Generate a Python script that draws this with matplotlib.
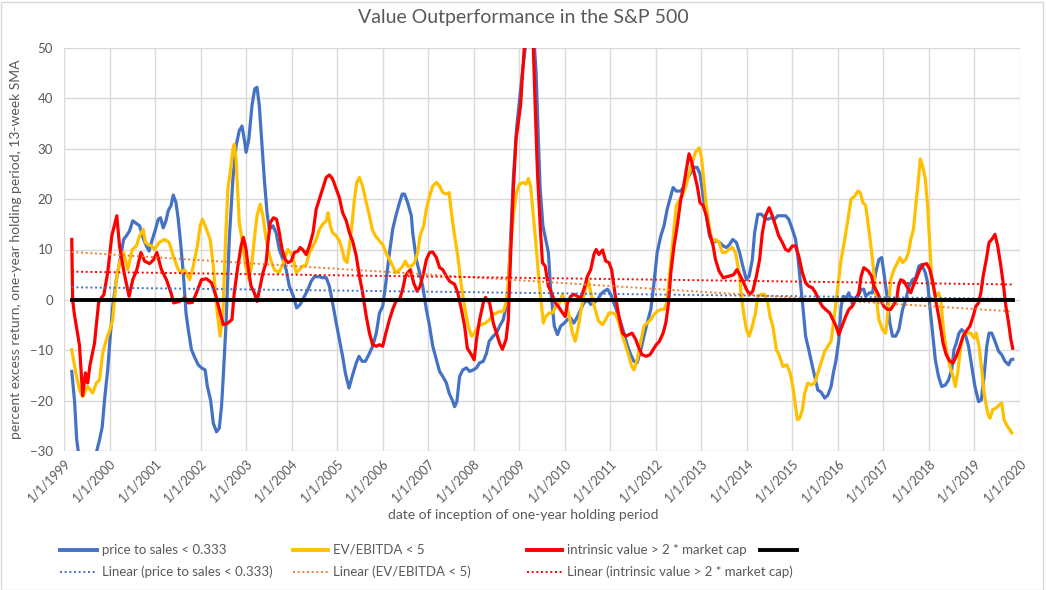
import matplotlib
matplotlib.use("Agg")
import matplotlib.pyplot as plt
from matplotlib.lines import Line2D
from matplotlib.patches import Rectangle

plt.rcParams['font.family'] = ['Lato', 'DejaVu Sans']

# price to sales < 0.333 (blue); values below -30 / above 50 are off the chart
ps_year = [1999.17, 1999.23, 1999.28, 1999.32, 1999.40, 1999.50, 1999.62, 1999.71, 1999.78, 1999.84,
           1999.89, 1999.96, 2000.01, 2000.07, 2000.15, 2000.22, 2000.31, 2000.37, 2000.44, 2000.51,
           2000.60, 2000.66, 2000.75, 2000.81, 2000.87, 2000.94, 2001.01, 2001.07, 2001.12, 2001.18,
           2001.24, 2001.29, 2001.35, 2001.40, 2001.46, 2001.51, 2001.56, 2001.62, 2001.68, 2001.73,
           2001.80, 2001.88, 2001.95, 2002.02, 2002.10, 2002.15, 2002.22, 2002.28, 2002.35, 2002.41,
           2002.46, 2002.50, 2002.56, 2002.63, 2002.71, 2002.78, 2002.85, 2002.91, 2002.96, 2003.00,
           2003.06, 2003.13, 2003.19, 2003.24, 2003.29, 2003.35, 2003.40, 2003.46, 2003.51, 2003.59,
           2003.66, 2003.73, 2003.81, 2003.88, 2003.95, 2004.04, 2004.11, 2004.19, 2004.28, 2004.36,
           2004.43, 2004.50, 2004.61, 2004.68, 2004.76, 2004.83, 2004.90, 2004.98, 2005.05, 2005.12,
           2005.18, 2005.26, 2005.33, 2005.42, 2005.48, 2005.55, 2005.62, 2005.71, 2005.78, 2005.86,
           2005.93, 2006.00, 2006.07, 2006.15, 2006.22, 2006.29, 2006.37, 2006.43, 2006.48, 2006.55,
           2006.63, 2006.66, 2006.74, 2006.81, 2006.88, 2006.96, 2007.03, 2007.10, 2007.18, 2007.25,
           2007.32, 2007.40, 2007.46, 2007.53, 2007.58, 2007.63, 2007.69, 2007.76, 2007.84, 2007.91,
           2007.99, 2008.06, 2008.13, 2008.21, 2008.28, 2008.34, 2008.43, 2008.50, 2008.57, 2008.65,
           2008.71, 2008.76, 2008.81, 2008.87, 2008.94, 2009.01, 2009.07, 2009.13, 2009.25, 2009.37,
           2009.42, 2009.46, 2009.52, 2009.58, 2009.64, 2009.69, 2009.77, 2009.84, 2009.91, 2009.99,
           2010.06, 2010.13, 2010.20, 2010.28, 2010.35, 2010.42, 2010.50, 2010.57, 2010.64, 2010.72,
           2010.79, 2010.86, 2010.94, 2011.01, 2011.08, 2011.16, 2011.23, 2011.30, 2011.38, 2011.45,
           2011.52, 2011.59, 2011.67, 2011.74, 2011.81, 2011.89, 2011.96, 2012.03, 2012.11, 2012.18,
           2012.25, 2012.33, 2012.38, 2012.45, 2012.55, 2012.62, 2012.69, 2012.77, 2012.84, 2012.91,
           2012.97, 2013.04, 2013.11, 2013.18, 2013.26, 2013.33, 2013.40, 2013.48, 2013.55, 2013.62,
           2013.69, 2013.77, 2013.84, 2013.91, 2013.99, 2014.05, 2014.12, 2014.17, 2014.24, 2014.32,
           2014.39, 2014.46, 2014.54, 2014.61, 2014.68, 2014.76, 2014.85, 2014.92, 2015.00, 2015.07,
           2015.12, 2015.17, 2015.23, 2015.29, 2015.36, 2015.44, 2015.51, 2015.56, 2015.63, 2015.71,
           2015.78, 2015.85, 2015.90, 2015.96, 2016.02, 2016.07, 2016.12, 2016.18, 2016.24, 2016.31,
           2016.37, 2016.44, 2016.51, 2016.57, 2016.61, 2016.69, 2016.76, 2016.83, 2016.90, 2016.96,
           2017.01, 2017.09, 2017.14, 2017.20, 2017.27, 2017.34, 2017.42, 2017.49, 2017.56, 2017.64,
           2017.71, 2017.78, 2017.84, 2017.92, 2017.97, 2018.02, 2018.08, 2018.14, 2018.21, 2018.28,
           2018.36, 2018.43, 2018.50, 2018.55, 2018.60, 2018.66, 2018.72, 2018.79, 2018.87, 2018.94,
           2019.01, 2019.09, 2019.15, 2019.21, 2019.27, 2019.32, 2019.38, 2019.45, 2019.53, 2019.60,
           2019.67, 2019.75, 2019.80, 2019.84]
ps_val = [-14.2, -19.9, -27.8, -30.5, -36, -38, -35, -30.3, -27.8, -25.2,
          -19.9, -13.9, -7.9, -1.3, 4, 7.4, 12, 12.7, 13.7, 15.7,
          15.1, 14.7, 12, 10.7, 9.7, 12, 14, 16, 16.3, 14.3,
          15.7, 17.7, 18.7, 20.8, 19.3, 16, 11.4, 5.4, -2.6, -5.9,
          -9.9, -11.6, -12.9, -13.5, -13.9, -17.2, -19.9, -24.5, -26.2, -25.5,
          -21.2, -15, -4.6, 12, 24, 30.6, 33.6, 34.5, 31.9, 29.3,
          31.9, 38.6, 41.9, 42.2, 38.6, 30.6, 24, 17.3, 14, 14.7,
          13.3, 10, 8, 6, 2.7, 0.7, -1.6, -0.9, 0.7, 2.1,
          3.7, 4.6, 4.6, 4.4, 4.4, 2.7, -0.6, -4.6, -7.9, -11.2,
          -14.5, -17.5, -15.2, -12.5, -11.2, -12.2, -12.2, -10.6, -9.2, -6.6,
          -2.6, -1.3, 3.4, 9.4, 14, 16.7, 19.3, 21, 21, 19.3,
          16.7, 13.3, 8, 5.4, 2.7, -1.9, -5.2, -9.2, -11.9, -14.2,
          -15.2, -16.5, -18.5, -19.9, -21.2, -20.2, -15.2, -13.9, -13.5, -14.2,
          -13.9, -13.5, -12.5, -12.2, -10.6, -8.2, -7.2, -6.6, -5.2, -3.9,
          -1.3, 2.7, 12, 24, 33.9, 39.9, 45.2, 49.9, 62, 45.2,
          31.9, 22, 14.7, 12, 9.4, 2.1, -5.2, -6.9, -5.2, -4.6,
          -3.9, -3.6, -4.6, -3.3, -1.9, -0.6, 0, -0.9, -0.6, 0,
          1.1, 1.7, 2.1, 1.1, -0.6, -2.6, -4.6, -6.6, -9.2, -10.9,
          -12.2, -12.5, -9.9, -7.2, -4.6, -1.9, 3.4, 9.4, 12.7, 14.7,
          18, 20.6, 22.3, 21.6, 21.6, 22.6, 24, 25.3, 26.3, 26.3,
          25, 20.6, 16.7, 12.7, 11.4, 11.7, 11.4, 10.7, 10.4, 11,
          12, 11.4, 9.4, 6.7, 4, 4.7, 8, 13.3, 17, 17,
          16.3, 16, 16.3, 16, 16.7, 16.7, 16.7, 16, 14, 12,
          8.7, 4, -1.3, -7.2, -9.9, -13.2, -15.9, -17.9, -18.3, -19.5,
          -18.9, -17.2, -14.5, -11.9, -7.9, -1.3, 0.7, 0.4, 1.4, -0.6,
          0.4, 0.7, 2.1, 2.1, 0.7, 1.4, 1.4, 5.4, 8, 8.4,
          5.4, 0, -4.6, -7.2, -7.2, -5.9, -1.9, 0, 2.7, 4,
          4.4, 6.7, 7, 5.4, 3.4, -1.3, -6.6, -11.9, -15.2, -17.2,
          -16.9, -15.9, -13.9, -9.9, -8.6, -6.6, -5.9, -6.6, -9.2, -13.2,
          -17.2, -20.2, -19.9, -15.2, -9.2, -6.6, -6.6, -8.2, -10.2, -10.9,
          -12.2, -12.9, -11.9, -11.8]

# EV/EBITDA < 5 (yellow)
ev_year = [1999.17, 1999.26, 1999.34, 1999.41, 1999.52, 1999.63, 1999.71, 1999.78, 1999.85, 1999.93,
           2000.01, 2000.07, 2000.15, 2000.22, 2000.31, 2000.40, 2000.50, 2000.59, 2000.66, 2000.74,
           2000.79, 2000.85, 2000.92, 2000.99, 2001.09, 2001.21, 2001.31, 2001.40, 2001.51, 2001.58,
           2001.65, 2001.76, 2001.84, 2001.93, 2001.99, 2002.04, 2002.13, 2002.21, 2002.28, 2002.35,
           2002.43, 2002.49, 2002.55, 2002.60, 2002.65, 2002.71, 2002.74, 2002.78, 2002.82, 2002.85,
           2002.91, 2002.99, 2003.06, 2003.12, 2003.18, 2003.24, 2003.31, 2003.37, 2003.42, 2003.48,
           2003.55, 2003.62, 2003.72, 2003.79, 2003.86, 2003.92, 2003.97, 2004.03, 2004.10, 2004.17,
           2004.25, 2004.32, 2004.39, 2004.47, 2004.54, 2004.61, 2004.68, 2004.76, 2004.80, 2004.85,
           2004.90, 2004.98, 2005.05, 2005.11, 2005.16, 2005.22, 2005.27, 2005.33, 2005.38, 2005.43,
           2005.49, 2005.56, 2005.64, 2005.71, 2005.77, 2005.84, 2005.93, 2006.00, 2006.07, 2006.15,
           2006.22, 2006.29, 2006.37, 2006.44, 2006.50, 2006.55, 2006.63, 2006.70, 2006.77, 2006.82,
           2006.90, 2006.96, 2007.03, 2007.10, 2007.18, 2007.25, 2007.32, 2007.40, 2007.46, 2007.51,
           2007.58, 2007.65, 2007.73, 2007.80, 2007.88, 2007.95, 2008.02, 2008.10, 2008.17, 2008.26,
           2008.35, 2008.43, 2008.50, 2008.57, 2008.65, 2008.71, 2008.76, 2008.81, 2008.87, 2008.94,
           2009.01, 2009.09, 2009.15, 2009.20, 2009.25, 2009.31, 2009.37, 2009.42, 2009.49, 2009.53,
           2009.58, 2009.66, 2009.73, 2009.80, 2009.88, 2009.95, 2010.02, 2010.10, 2010.17, 2010.23,
           2010.30, 2010.37, 2010.45, 2010.52, 2010.59, 2010.67, 2010.74, 2010.83, 2010.90, 2010.97,
           2011.05, 2011.12, 2011.19, 2011.27, 2011.34, 2011.41, 2011.47, 2011.52, 2011.59, 2011.66,
           2011.74, 2011.81, 2011.89, 2011.96, 2012.03, 2012.11, 2012.18, 2012.24, 2012.29, 2012.35,
           2012.40, 2012.45, 2012.51, 2012.58, 2012.66, 2012.73, 2012.80, 2012.87, 2012.95, 2013.00,
           2013.05, 2013.11, 2013.17, 2013.24, 2013.31, 2013.39, 2013.46, 2013.53, 2013.61, 2013.68,
           2013.75, 2013.83, 2013.88, 2013.93, 2013.99, 2014.05, 2014.12, 2014.19, 2014.24, 2014.32,
           2014.39, 2014.46, 2014.51, 2014.57, 2014.65, 2014.72, 2014.79, 2014.88, 2014.95, 2015.01,
           2015.06, 2015.11, 2015.16, 2015.22, 2015.27, 2015.34, 2015.41, 2015.49, 2015.56, 2015.63,
           2015.71, 2015.78, 2015.85, 2015.93, 2016.00, 2016.07, 2016.15, 2016.22, 2016.29, 2016.37,
           2016.44, 2016.49, 2016.55, 2016.61, 2016.69, 2016.76, 2016.83, 2016.90, 2016.98, 2017.05,
           2017.11, 2017.16, 2017.23, 2017.31, 2017.36, 2017.42, 2017.49, 2017.55, 2017.60, 2017.66,
           2017.71, 2017.77, 2017.81, 2017.86, 2017.92, 2017.97, 2018.02, 2018.06, 2018.14, 2018.21,
           2018.26, 2018.32, 2018.38, 2018.46, 2018.53, 2018.58, 2018.63, 2018.70, 2018.77, 2018.85,
           2018.92, 2018.99, 2019.04, 2019.10, 2019.16, 2019.21, 2019.29, 2019.34, 2019.40, 2019.47,
           2019.54, 2019.60, 2019.65, 2019.73, 2019.78, 2019.82]
ev_val = [-9.9, -14.5, -17.9, -19.2, -17.2, -18.5, -16.5, -15.9, -10.6, -7.9,
          -5.9, -3.9, 4, 7.4, 9.4, 6, 10, 10.7, 12.7, 14,
          11.4, 11, 10.7, 10, 11.4, 12, 11.4, 8.7, 6, 5.4,
          6, 4, 6.7, 10.7, 14.7, 16, 14, 12, 6.7, -1.3,
          -7.2, -3, 12, 22, 25.3, 29.9, 30.9, 28, 20.6, 15.3,
          12, 6.7, 4, 6.7, 12, 16.7, 19, 16.7, 13.3, 10,
          7.7, 6, 5.4, 6.7, 8.7, 10, 9.4, 8.4, 5.4, 6,
          6.7, 7, 9.4, 10.7, 12, 14, 15, 15.7, 17.3, 14.7,
          13.3, 12.7, 11.7, 10, 8, 7.4, 10.7, 15.3, 20, 23.3,
          24.3, 22.6, 19.3, 16.7, 14, 12.7, 11.7, 11, 9.4, 8,
          6.7, 5.4, 6, 6.7, 7.7, 6.7, 6.7, 7.4, 9.4, 12.7,
          14.7, 18, 20.6, 22.6, 23.3, 22.6, 21.3, 21, 21.3, 17.3,
          12.7, 8.7, 2.7, -1.3, -5.2, -7.2, -6.6, -5.2, -4.9, -4.6,
          -3.9, -2.9, -2.6, -2.3, -2.3, -0.6, 3.4, 10.7, 16.7, 21.3,
          23, 23.3, 23, 24.1, 22.6, 16.7, 10.7, 5.4, -1.3, -4.6,
          -3.3, -2.6, -2.6, -1.3, -0.6, 1.1, -0.6, -3.3, -6.6, -8.2,
          -5.2, -1.3, 2.1, 3.7, 0.7, -1.9, -4.2, -4.9, -3.9, -2.6,
          -2.6, -2.9, -4.6, -7.2, -9.2, -11.2, -13.2, -13.9, -11.9, -8.6,
          -5.2, -4.6, -3.9, -2.9, -2.3, -1.9, -1.9, -0.6, 4, 9.4,
          14, 18.7, 19.7, 20.6, 22.6, 25, 27.3, 29.3, 30.2, 28.5,
          24, 18.7, 14.7, 11.4, 12, 11.4, 9.4, 9.4, 10, 10.4,
          9.4, 5.4, 0.7, -2.6, -5.9, -7.2, -5.2, -2.6, 0.7, 1.1,
          1.1, -0.6, -3.3, -5.2, -9.9, -11.2, -13.2, -12.9, -14.5, -17.2,
          -20.5, -23.8, -23.5, -21.8, -18.5, -16.5, -16.9, -16.5, -14.5, -12.5,
          -10.2, -9.2, -8.2, -2.6, 2.7, 8, 12, 16, 20, 20.6,
          21.6, 21.3, 19.3, 18.7, 13.3, 8, 1.4, -3.9, -5.9, -6.6,
          -1.3, 4, 6, 7.4, 8.4, 7.4, 8, 9.4, 12, 14,
          18.7, 24, 28, 26.6, 24, 18.7, 10.7, 4, 0.7, 1.4,
          0, -5.9, -9.9, -13.2, -15.2, -17.2, -14.5, -9.2, -6.6, -6.6,
          -6.6, -7.6, -6.6, -9.2, -13.9, -18.5, -22.5, -23.5, -21.8, -21.5,
          -20.9, -20.5, -23.8, -25.2, -25.8, -26.4]

# intrinsic value > 2 * market cap (red)
iv_year = [1999.17, 1999.19, 1999.23, 1999.34, 1999.41, 1999.47, 1999.52, 1999.57, 1999.67, 1999.76,
           1999.82, 1999.875, 1999.96, 2000.05, 2000.16, 2000.22, 2000.32, 2000.43, 2000.51, 2000.60,
           2000.69, 2000.77, 2000.88, 2000.97, 2001.04, 2001.14, 2001.25, 2001.35, 2001.41, 2001.54,
           2001.65, 2001.73, 2001.82, 2001.91, 2002.02, 2002.13, 2002.24, 2002.34, 2002.43, 2002.50,
           2002.60, 2002.69, 2002.74, 2002.82, 2002.89, 2002.94, 2003.00, 2003.06, 2003.11, 2003.18,
           2003.24, 2003.31, 2003.37, 2003.44, 2003.48, 2003.53, 2003.60, 2003.67, 2003.73, 2003.79,
           2003.86, 2003.92, 2003.99, 2004.06, 2004.14, 2004.19, 2004.25, 2004.32, 2004.39, 2004.47,
           2004.54, 2004.61, 2004.68, 2004.76, 2004.83, 2004.90, 2004.98, 2005.05, 2005.12, 2005.20,
           2005.27, 2005.34, 2005.42, 2005.49, 2005.56, 2005.64, 2005.71, 2005.78, 2005.86, 2005.93,
           2006.00, 2006.07, 2006.15, 2006.22, 2006.29, 2006.37, 2006.44, 2006.50, 2006.55, 2006.61,
           2006.68, 2006.76, 2006.82, 2006.90, 2006.96, 2007.03, 2007.10, 2007.18, 2007.25, 2007.32,
           2007.40, 2007.47, 2007.58, 2007.65, 2007.73, 2007.80, 2007.86, 2007.95, 2008.01, 2008.06,
           2008.13, 2008.21, 2008.26, 2008.35, 2008.43, 2008.50, 2008.57, 2008.63, 2008.71, 2008.76,
           2008.81, 2008.87, 2008.93, 2008.98, 2009.03, 2009.07, 2009.11, 2009.20, 2009.31, 2009.35,
           2009.40, 2009.46, 2009.51, 2009.57, 2009.64, 2009.71, 2009.79, 2009.86, 2009.93, 2010.01,
           2010.06, 2010.13, 2010.20, 2010.28, 2010.35, 2010.42, 2010.50, 2010.57, 2010.64, 2010.69,
           2010.75, 2010.83, 2010.90, 2010.97, 2011.03, 2011.10, 2011.19, 2011.27, 2011.34, 2011.41,
           2011.48, 2011.56, 2011.63, 2011.70, 2011.79, 2011.87, 2011.94, 2012.01, 2012.08, 2012.16,
           2012.22, 2012.28, 2012.33, 2012.40, 2012.47, 2012.55, 2012.60, 2012.66, 2012.73, 2012.79,
           2012.84, 2012.91, 2012.97, 2013.04, 2013.11, 2013.18, 2013.26, 2013.31, 2013.39, 2013.48,
           2013.56, 2013.64, 2013.71, 2013.78, 2013.86, 2013.93, 2013.99, 2014.06, 2014.13, 2014.21,
           2014.28, 2014.34, 2014.41, 2014.49, 2014.56, 2014.63, 2014.70, 2014.78, 2014.85, 2014.92,
           2015.00, 2015.07, 2015.14, 2015.22, 2015.29, 2015.36, 2015.44, 2015.51, 2015.58, 2015.66,
           2015.73, 2015.82, 2015.89, 2015.96, 2016.02, 2016.09, 2016.17, 2016.24, 2016.31, 2016.39,
           2016.46, 2016.51, 2016.57, 2016.67, 2016.74, 2016.79, 2016.87, 2016.94, 2017.01, 2017.09,
           2017.16, 2017.23, 2017.29, 2017.33, 2017.38, 2017.45, 2017.53, 2017.60, 2017.65, 2017.73,
           2017.80, 2017.87, 2017.95, 2018.02, 2018.09, 2018.16, 2018.24, 2018.31, 2018.38, 2018.46,
           2018.53, 2018.60, 2018.68, 2018.75, 2018.82, 2018.90, 2018.97, 2019.03, 2019.09, 2019.14,
           2019.19, 2019.26, 2019.32, 2019.38, 2019.45, 2019.51, 2019.58, 2019.64, 2019.69, 2019.75,
           2019.80, 2019.84]
iv_val = [12, 0, -3, -9, -19, -14.5, -16.5, -13, -8.6, -0.6,
          0.4, 1, 5.4, 12.7, 16.7, 10.7, 5.4, 0.7, 4, 6,
          9.4, 7.7, 7.2, 8, 9.4, 6, 4, 1.4, -0.6, -0.3,
          0.4, -0.6, -0.5, 1.4, 4, 4.2, 3.4, 0.7, -2.6, -4.9,
          -4.6, -3.9, 1.4, 6.7, 10.7, 12.4, 10, 5.4, 2.7, 1.4,
          -0.3, 2.7, 5.4, 7.4, 11.4, 15.3, 16.3, 16, 13.3, 10,
          8, 7.4, 7.7, 9.4, 9.7, 10.4, 9.9, 9, 10.7, 13.3,
          18, 20, 22, 24.3, 24.8, 24, 22, 20.3, 17.3, 15.7,
          13.3, 11.7, 8.7, 4.7, 1.4, -3.3, -6.6, -8.9, -9.2, -8.9,
          -9.2, -6.6, -3.9, -1.9, -0.3, 0, 2.1, 4.7, 5.4, 6,
          3.4, 1.7, 2.7, 5.4, 8, 9.4, 9.5, 8.4, 6.4, 6,
          4.7, 3.7, 3.1, 1.4, -1.9, -5.2, -9.6, -10.9, -11.9, -7.9,
          -3.9, -0.6, 0.5, -0.6, -4.6, -6.6, -8.6, -9.8, -7.9, -3.9,
          8.7, 22, 31.9, 35.3, 38.6, 44.6, 49.9, 58, 49.9, 38.6,
          25.3, 14.7, 7.4, 6.7, 2.7, 1.4, -0.6, -1.3, -2.3, -3.3,
          -0.6, 0.7, 1.1, 0.7, 0.4, 2.1, 4.7, 6, 9, 10,
          9, 9.9, 7.7, 7.4, 6, 1.4, -3.3, -6.6, -7.2, -6.9,
          -6.6, -7.9, -9.6, -10.9, -11.2, -10.9, -9.9, -8.9, -8.2, -6.6,
          -4.6, -0.6, 5.4, 10.7, 14.7, 20, 22, 25.3, 29, 27.3,
          25.3, 22.6, 19.3, 18.7, 16.7, 13.3, 10.7, 8, 5.7, 4.4,
          4.6, 4.8, 5, 6, 4.7, 3.4, 2.1, 1.1, 1.7, 4.7,
          8, 13.3, 16.7, 18.3, 16.7, 14.7, 12.7, 11.4, 10, 9.7,
          10.7, 10.7, 8.7, 5.4, 3.4, 2.7, 2.4, 1.4, 0, -1.3,
          -1.9, -2.6, -3.9, -5.2, -6.9, -5.2, -3.3, -1.9, -1.3, 0,
          1.4, 4.7, 6.4, 5.7, 4.7, 2.7, 1.4, 0, -1.3, -1.9,
          -1.9, -0.9, 0, 2.7, 4, 3.7, 2.4, 1.4, 2.7, 4.4,
          6, 7, 7.2, 6, 3.4, -0.6, -4.6, -8.6, -10.9, -12.2,
          -12.5, -11.2, -9.2, -7.2, -6.2, -5.2, -3.3, -1.3, -0.6, 1.4,
          4.7, 8, 11.4, 12, 13, 10.7, 6.7, 2.7, -1.3, -4.6,
          -7.9, -9.6]

# zero reference series (black)
zero_year = [1999.17, 2019.84]
zero_val = [0, 0]

# linear trendlines, value at first and last date
trend_year = [1999.17, 2019.84]
ps_trend = [2.5, 0.2]
ev_trend = [9.5, -2.3]
iv_trend = [5.6, 3.05]

tick_years = list(range(1999, 2021))
tick_labels = ["1/1/%d" % y for y in tick_years]

BLUE = "#4472C4"
YELLOW = "#FFC000"
RED = "#FF0000"
ORANGE = "#ED7D31"
GRID = "#D9D9D9"
TXT = "#595959"

fig = plt.figure(figsize=(10.46, 5.9), dpi=100)
ax = fig.add_axes([64 / 1046, 1 - 451 / 590, 956 / 1046, 403 / 590])

lw = 2.3
ax.plot(ps_year, ps_val, color=BLUE, lw=lw, zorder=3, solid_joinstyle="round")
ax.plot(ev_year, ev_val, color=YELLOW, lw=lw, zorder=4, solid_joinstyle="round")
ax.plot(iv_year, iv_val, color=RED, lw=lw, zorder=5, solid_joinstyle="round")

dots = (0, (1.0, 1.4))
ax.plot(trend_year, ps_trend, color=BLUE, lw=1.4, ls=dots, zorder=6)
ax.plot(trend_year, ev_trend, color=ORANGE, lw=1.4, ls=dots, zorder=6)
ax.plot(trend_year, iv_trend, color=RED, lw=1.4, ls=dots, zorder=6)
ax.plot(zero_year, zero_val, color="black", lw=2.8, zorder=7)

ax.set_xlim(1999, 2020)
ax.set_ylim(-30, 50)
ax.set_xticks(tick_years)
ax.set_xticklabels(tick_labels, rotation=45, ha="right", va="top",
                   rotation_mode="anchor", fontsize=9, color=TXT)
ax.set_yticks(range(-30, 51, 10))
ax.tick_params(axis="y", labelsize=9.5, labelcolor=TXT, length=0, pad=8)
ax.tick_params(axis="x", length=0, pad=4)
ax.grid(True, color=GRID, lw=1, zorder=0)
ax.set_axisbelow(True)
for s in ax.spines.values():
    s.set_visible(False)

ax.set_ylabel("percent excess return, one-year holding period, 13-week SMA",
              fontsize=10, color=TXT, labelpad=8)
ax.yaxis.set_label_coords(-42 / 956, 0.5)
fig.text(0.5, 1 - 18 / 590, "Value Outperformance in the S&P 500",
         ha="center", va="center", fontsize=14, color=TXT)
fig.text(0.5, 1 - 515 / 590, "date of inception of one-year holding period",
         ha="center", va="center", fontsize=10, color=TXT)

# legend laid out like the Excel chart: two rows below the plot
W, H = 1046, 590
legend_rows = [
    [(60, 97, BLUE, "-", "price to sales < 0.333"),
     (293, 328, YELLOW, "-", "EV/EBITDA < 5"),
     (527, 562, RED, "-", "intrinsic value > 2 * market cap"),
     (760, 797, "black", "-", "")],
    [(60, 97, BLUE, ":", "Linear (price to sales < 0.333)"),
     (293, 328, ORANGE, ":", "Linear (EV/EBITDA < 5)"),
     (527, 562, RED, ":", "Linear (intrinsic value > 2 * market cap)")],
]
for row, ypx in zip(legend_rows, [550, 572]):
    yf = 1 - ypx / H
    for x0, x1, col, style, label in row:
        if style == "-":
            ln = Line2D([x0 / W, x1 / W], [yf, yf], color=col, lw=2.8,
                        transform=fig.transFigure)
        else:
            ln = Line2D([x0 / W, x1 / W], [yf, yf], color=col, lw=1.4, ls=dots,
                        transform=fig.transFigure)
        fig.add_artist(ln)
        if label:
            fig.text((x1 + 5) / W, yf, label, ha="left", va="center",
                     fontsize=9.5, color=TXT)

fig.add_artist(Rectangle((0.5 / W, 0.5 / H), 1 - 4 / W, 1 - 2 / H,
                         transform=fig.transFigure, fill=False,
                         edgecolor=GRID, lw=1))

fig.savefig("out.png", dpi=100)
